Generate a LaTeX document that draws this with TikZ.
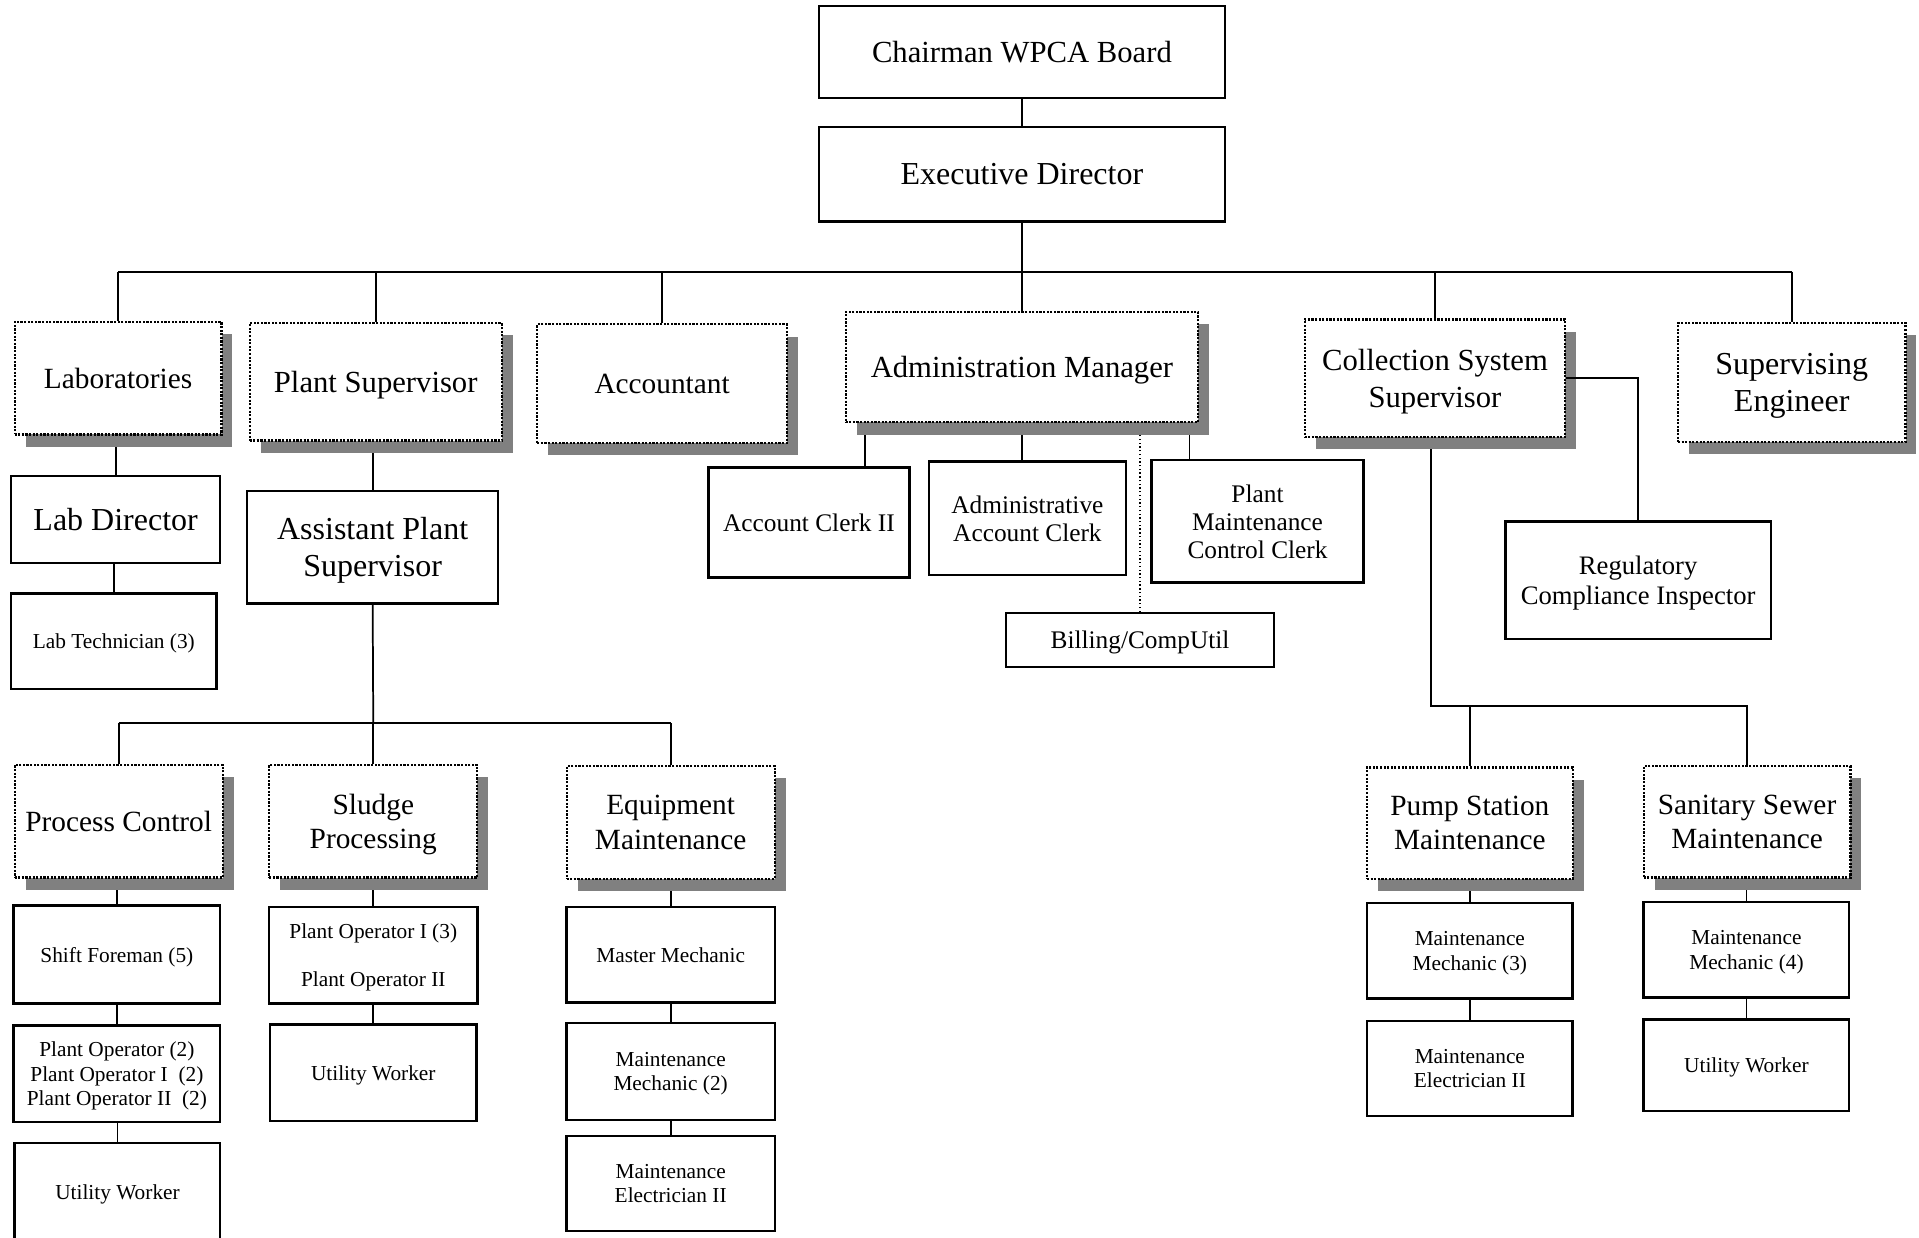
\documentclass[tikz,border=0pt]{standalone}
\usepackage{fontspec}
\setmainfont{Liberation Serif}
\usetikzlibrary{shadows, backgrounds}
\definecolor{cshadow}{HTML}{808080}
\newlength{\unitpx}
\setlength{\unitpx}{0.45896pt}
\tikzset{
  wh/.style 2 args={minimum width=#1*\unitpx, minimum height=#2*\unitpx},
  solidbox/.style={draw, line width=0.9pt, fill=white, align=center, inner sep=0pt, text depth=0pt},
  dotbox/.style={draw, line width=0.85pt, dash pattern=on 0.8pt off 0.55pt, fill=white,
    align=center, inner sep=0pt, text depth=0pt,
    general shadow={fill=cshadow, shadow xshift=4.1pt, shadow yshift=-4.6pt}},
  link/.style={line width=0.65pt},
  dotlink/.style={line width=0.5pt, dash pattern=on 0.5pt off 0.9pt},
  fhead/.style={font=\fontsize{12}{13.8}\selectfont},
  fsub/.style={font=\fontsize{11.5}{13.8}\selectfont},
  funit/.style={font=\fontsize{11}{12.9}\selectfont},
  freg/.style={font=\fontsize{10}{11.5}\selectfont},
  fclerk/.style={font=\fontsize{9.5}{10.5}\selectfont},
  fstaff/.style={font=\fontsize{8}{9.2}\selectfont},
}

\begin{document}
\begin{tikzpicture}[x=0.45896pt, y=-0.45896pt]
  \useasboundingbox (0,0) rectangle (1568,1011);
  % board and director
  \node[solidbox, wh={332}{75}, fsub] (chair) at (835,42.5) {Chairman WPCA Board};
  \node[solidbox, wh={332}{77}, fhead] (exec) at (835,142.5) {Executive Director};
  % departments
  \node[dotbox, wh={169}{92}, funit] (labs) at (96.5,309) {Laboratories};
  \node[dotbox, wh={206}{96}, fsub] (plantsup) at (307,312) {Plant Supervisor};
  \node[dotbox, wh={204}{97}, funit] (acct) at (541,313.5) {Accountant};
  \node[dotbox, wh={288}{90}, fsub] (admin) at (835,300) {Administration Manager};
  \node[dotbox, wh={213}{96}, fsub] (coll) at (1172.5,309) {Collection System\\Supervisor};
  \node[dotbox, wh={186}{97}, fhead] (supeng) at (1464,312.5) {Supervising\\Engineer};
  % third level
  \node[solidbox, wh={171}{71}, fhead] (labdir) at (94.5,424.5) {Lab Director};
  \node[solidbox, wh={168}{78}, fstaff] (labtech) at (93,524) {Lab Technician (3)};
  \node[solidbox, wh={205}{92}, fhead] (asst) at (304.5,447) {Assistant Plant\\Supervisor};
  \node[solidbox, wh={164}{90}, fclerk] (acclerk) at (661,427) {Account Clerk II};
  \node[solidbox, wh={161}{93}, fclerk] (admclerk) at (839.5,423.5) {Administrative\\Account Clerk};
  \node[solidbox, wh={173}{100}, fclerk] (pmclerk) at (1027.5,426) {Plant\\Maintenance\\Control Clerk};
  \node[solidbox, wh={219}{44}, fclerk] (billing) at (931.5,523) {Billing/CompUtil};
  \node[solidbox, wh={217}{96}, freg] (regcomp) at (1338.5,474) {Regulatory\\Compliance Inspector};
  % sections
  \node[dotbox, wh={170}{92}, funit] (proc) at (97,671) {Process Control};
  \node[dotbox, wh={170}{92}, funit] (sludge) at (305,671) {Sludge\\Processing};
  \node[dotbox, wh={170}{92}, funit] (equip) at (548,672) {Equipment\\Maintenance};
  \node[dotbox, wh={168}{91}, funit] (pump) at (1201,672.5) {Pump Station\\Maintenance};
  \node[dotbox, wh={169}{91}, funit] (sewer) at (1427.5,671.5) {Sanitary Sewer\\Maintenance};
  % staff
  \node[solidbox, wh={169}{80}, fstaff] (shift) at (95.5,780) {Shift Foreman (5)};
  \node[solidbox, wh={169}{79}, fstaff] (plantop) at (95.5,877.5) {Plant Operator (2)\\Plant Operator I\ \ (2)\\Plant Operator II\ \ (2)};
  \node[solidbox, wh={168}{80}, fstaff] (utilpc) at (96,974) {Utility Worker};
  \node[solidbox, wh={170}{79}, fstaff] (sludgeop) at (305,780.5) {Plant Operator I (3)\\[8.7pt]Plant Operator II};
  \node[solidbox, wh={169}{79}, fstaff] (utilsl) at (305,876.5) {Utility Worker};
  \node[solidbox, wh={170}{78}, fstaff] (master) at (548,780) {Master Mechanic};
  \node[solidbox, wh={170}{79}, fstaff] (mmech2) at (548,875.5) {Maintenance\\Mechanic (2)};
  \node[solidbox, wh={170}{78}, fstaff] (melec) at (548,967) {Maintenance\\Electrician II};
  \node[solidbox, wh={168}{78}, fstaff] (mmech3) at (1201,777) {Maintenance\\Mechanic (3)};
  \node[solidbox, wh={168}{78}, fstaff] (melec2) at (1201,873) {Maintenance\\Electrician II};
  \node[solidbox, wh={168}{78}, fstaff] (mmech4) at (1427,776) {Maintenance\\Mechanic (4)};
  \node[solidbox, wh={168}{75}, fstaff] (utilsw) at (1427,870.5) {Utility Worker};
  % bus and tap points
  \coordinate (topbus) at (835,222);
  \coordinate (plantbus) at (305,591);
  \coordinate (colltap) at (1169,577);
  \coordinate (tapacc) at (707,0);
  \coordinate (tapadm) at (835,0);
  \coordinate (tappmc) at (972,0);
  \begin{scope}[on background layer]
    \draw[link] (chair.south) -- (exec.north);
    \draw[link] (exec.south) -- (topbus);
    \draw[link] (topbus -| labs.north) -- (topbus -| supeng.north);
    \foreach \n in {labs, plantsup, acct, admin, coll, supeng}
      \draw[link] (topbus -| \n.north) -- (\n.north);
    \draw[link] (asst.south) -- (plantbus);
    \draw[link] (plantbus -| proc.north) -- (plantbus -| equip.north);
    \foreach \n in {proc, sludge, equip}
      \draw[link] (plantbus -| \n.north) -- (\n.north);
    \draw[link] (acclerk.north -| tapacc) -- (admin.south -| tapacc);
    \draw[link] (admclerk.north -| tapadm) -- (admin.south -| tapadm);
    \draw[link] (pmclerk.north -| tappmc) -- (admin.south -| tappmc);
    \draw[dotlink] (billing.north) -- (billing.north |- admin.south);
    \draw[link] (coll.south -| colltap) -- (colltap) -- (colltap -| sewer.north) -- (sewer.north);
    \draw[link] (pump.north) -- (pump.north |- colltap);
    \foreach \a/\b in {labs/labdir, labdir/labtech, plantsup/asst, proc/shift, shift/plantop,
        plantop/utilpc, sludge/sludgeop, sludgeop/utilsl, equip/master, master/mmech2,
        mmech2/melec, pump/mmech3, mmech3/melec2, sewer/mmech4, mmech4/utilsw}
      \draw[link] (\b.north) -- (\b.north |- \a.south);
  \end{scope}
  \draw[link] (coll.east) -| (regcomp.north);
\end{tikzpicture}
\end{document}
